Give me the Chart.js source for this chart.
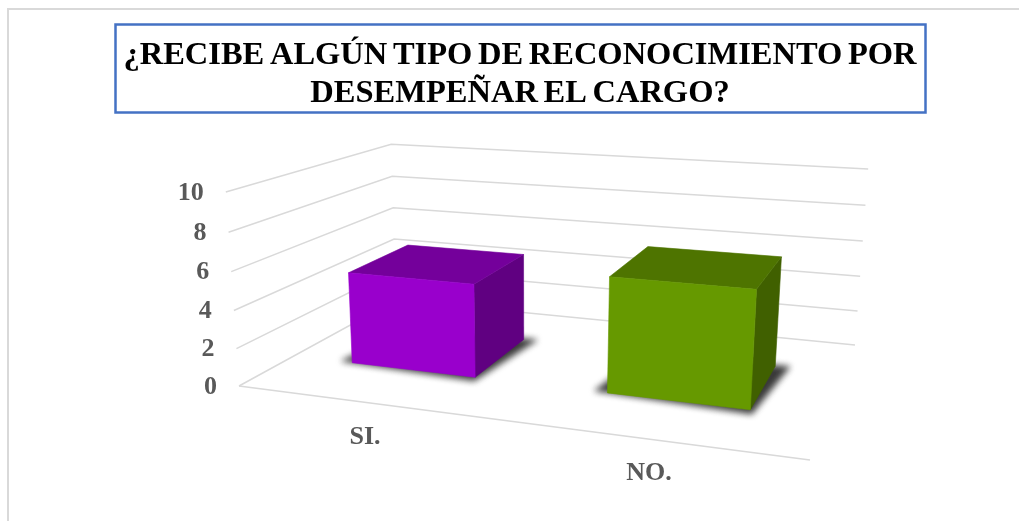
<!DOCTYPE html>
<html>
<head>
<meta charset="utf-8">
<style>html,body{margin:0;padding:0;background:#fff}canvas{display:block}</style>
<script src="https://cdn.jsdelivr.net/npm/chart.js@4"></script>
</head>
<body>
<canvas id="c" width="1019" height="521"></canvas>
<script>
const categories = ['SI.', 'NO.'];
const values = [5, 6];
const barColors = ['#9900CC', '#669900'];
const titleLines = ['¿RECIBE ALGÚN TIPO DE RECONOCIMIENTO POR', 'DESEMPEÑAR EL CARGO?'];
const axisMax = 10;
const axisStep = 2;

// 3D frame of the plot (where the walls and floor sit on the page)
const frame = {
  floor: [[239,386],[810,460],[396,300],[855,345]], // front-left, front-right, back-left, back-right
  top: [[[0,0],[225,191]],[[0,1],[392,145]],[[1,1],[868,169]]]
};
const depthRange = [0.3, 0.7];

function solve(A, b) {
  const n = b.length, M = A.map((r, i) => [...r, b[i]]);
  for (let i = 0; i < n; i++) {
    let p = i;
    for (let k = i + 1; k < n; k++) if (Math.abs(M[k][i]) > Math.abs(M[p][i])) p = k;
    [M[i], M[p]] = [M[p], M[i]];
    for (let k = 0; k < n; k++) {
      if (k === i) continue;
      const f = M[k][i] / M[i][i];
      for (let j = i; j <= n; j++) M[k][j] -= f * M[i][j];
    }
  }
  return M.map((r, i) => r[n] / r[i]);
}
const uv = [[0,0],[1,0],[0,1],[1,1]];
const A8 = [], b8 = [];
frame.floor.forEach(([X, Y], i) => {
  const [u, d] = uv[i];
  A8.push([u, d, 1, 0, 0, 0, -u * X, -d * X]); b8.push(X);
  A8.push([0, 0, 0, u, d, 1, -u * Y, -d * Y]); b8.push(Y);
});
const H = solve(A8, b8);
const rows = [], rhs = [];
frame.top.forEach(([[u, d], [X, Y]]) => {
  const x0 = H[0]*u + H[1]*d + H[2], y0 = H[3]*u + H[4]*d + H[5], w0 = H[6]*u + H[7]*d + 1;
  rows.push([1, 0, -X]); rhs.push(X * w0 - x0);
  rows.push([0, 1, -Y]); rhs.push(Y * w0 - y0);
});
const N = [0,1,2].map(i => [0,1,2].map(j => rows.reduce((s, r) => s + r[i] * r[j], 0)));
const nb = [0,1,2].map(i => rows.reduce((s, r, k) => s + r[i] * rhs[k], 0));
const [P, Q, R] = solve(N, nb);
function project(u, d, v) {
  const w = H[6]*u + H[7]*d + 1 + R*v;
  return [(H[0]*u + H[1]*d + H[2] + P*v) / w, (H[3]*u + H[4]*d + H[5] + Q*v) / w];
}
function poly(ctx, pts, fill) {
  ctx.beginPath();
  pts.forEach((p, i) => i ? ctx.lineTo(p[0], p[1]) : ctx.moveTo(p[0], p[1]));
  ctx.closePath();
  ctx.fillStyle = fill;
  ctx.strokeStyle = fill;
  ctx.lineWidth = 0.6;
  ctx.fill();
  ctx.stroke();
}
function shade(hex, f) {
  const n = parseInt(hex.slice(1), 16);
  return `rgb(${Math.round((n >> 16 & 255) * f)},${Math.round((n >> 8 & 255) * f)},${Math.round((n & 255) * f)})`;
}
const FONT = '"Liberation Serif"';

const plot3d = {
  id: 'plot3d',
  beforeDraw(chart) {
    const ctx = chart.ctx;
    ctx.save();
    ctx.strokeStyle = '#D9D9D9';
    ctx.lineWidth = 2;
    ctx.beginPath();
    ctx.moveTo(8, 521); ctx.lineTo(8, 9); ctx.lineTo(1019, 9);
    ctx.stroke();
    ctx.strokeStyle = '#4472C4';
    ctx.lineWidth = 2.5;
    ctx.strokeRect(115.5, 24.5, 810, 88);
    ctx.restore();
    ctx.wordSpacing = '-2.5px';
  },
  beforeDatasetsDraw(chart) {
    const ctx = chart.ctx, xs = chart.scales.x, ys = chart.scales.y;
    const toV = px => (ys.bottom - px) / (ys.bottom - ys.top);
    ctx.save();
    ctx.wordSpacing = '0px';
    // walls and floor
    ctx.strokeStyle = '#D9D9D9';
    ctx.lineWidth = 1.5;
    ys.ticks.forEach(t => {
      const v = toV(ys.getPixelForValue(t.value));
      ctx.beginPath();
      [project(0,0,v), project(0,1,v), project(1,1,v)].forEach((p, i) => i ? ctx.lineTo(p[0], p[1]) : ctx.moveTo(p[0], p[1]));
      ctx.stroke();
      if (t.value === 0) {
        const a = project(0,0,0), b = project(1,0,0);
        ctx.beginPath(); ctx.moveTo(a[0], a[1]); ctx.lineTo(b[0], b[1]); ctx.stroke();
      }
    });
    // value-axis labels along the front-left edge
    ctx.fillStyle = '#595959';
    ctx.font = `bold 26px ${FONT}`;
    ctx.textAlign = 'right';
    ctx.textBaseline = 'middle';
    ys.ticks.forEach(t => {
      const p = project(0, 0, toV(ys.getPixelForValue(t.value)));
      ctx.fillText(String(t.value), p[0] - 22, p[1] + 1);
    });
    // category labels below the front edge
    ctx.textAlign = 'center';
    categories.forEach((_, i) => {
      const u = (xs.getPixelForValue(i) - xs.left) / xs.width;
      const p = project(u, 0, 0);
      ctx.fillText(xs.getLabelForValue(i), p[0], p[1] + 34.5);
    });
    // bars
    chart.getDatasetMeta(0).data.forEach(bar => {
      const u0 = (bar.x - bar.width / 2 - xs.left) / xs.width;
      const u1 = (bar.x + bar.width / 2 - xs.left) / xs.width;
      const [d0, d1] = depthRange;
      const v = toV(bar.y);
      const color = bar.options.backgroundColor;
      ctx.save();
      ctx.filter = 'blur(3px)';
      poly(ctx, [project(u0-0.024,d0+0.005,0), project(u1+0.006,d0-0.03,0), project(u1+0.026,d1+0.01,0), project(u0,d1,0)], '#3A3A3A');
      ctx.restore();
      poly(ctx, [project(u1,d0,0), project(u1,d1,0), project(u1,d1,v), project(u1,d0,v)], shade(color, 0.63));
      poly(ctx, [project(u0,d0,v), project(u1,d0,v), project(u1,d1,v), project(u0,d1,v)], shade(color, 0.76));
      poly(ctx, [project(u0,d0,0), project(u1,d0,0), project(u1,d0,v), project(u0,d0,v)], color);
    });
    ctx.restore();
    return false;
  }
};

new Chart(document.getElementById('c'), {
  type: 'bar',
  data: {
    labels: categories,
    datasets: [{ data: values, backgroundColor: barColors, categoryPercentage: 1, barPercentage: 0.5 }]
  },
  options: {
    responsive: false,
    animation: false,
    layout: { padding: { left: 21, right: 0, top: 0, bottom: 60 } },
    plugins: {
      legend: { display: false },
      tooltip: { enabled: false },
      title: {
        display: true,
        text: titleLines,
        color: '#000000',
        font: { family: FONT, size: 32.5, weight: 'bold', lineHeight: 1.185 },
        padding: { top: 36, bottom: 64 }
      }
    },
    scales: {
      x: { display: true, grid: { display: false }, border: { display: false }, ticks: { display: false } },
      y: { min: 0, max: axisMax, grid: { display: false }, border: { display: false }, ticks: { display: false, stepSize: axisStep } }
    }
  },
  plugins: [plot3d]
});
</script>
</body>
</html>
